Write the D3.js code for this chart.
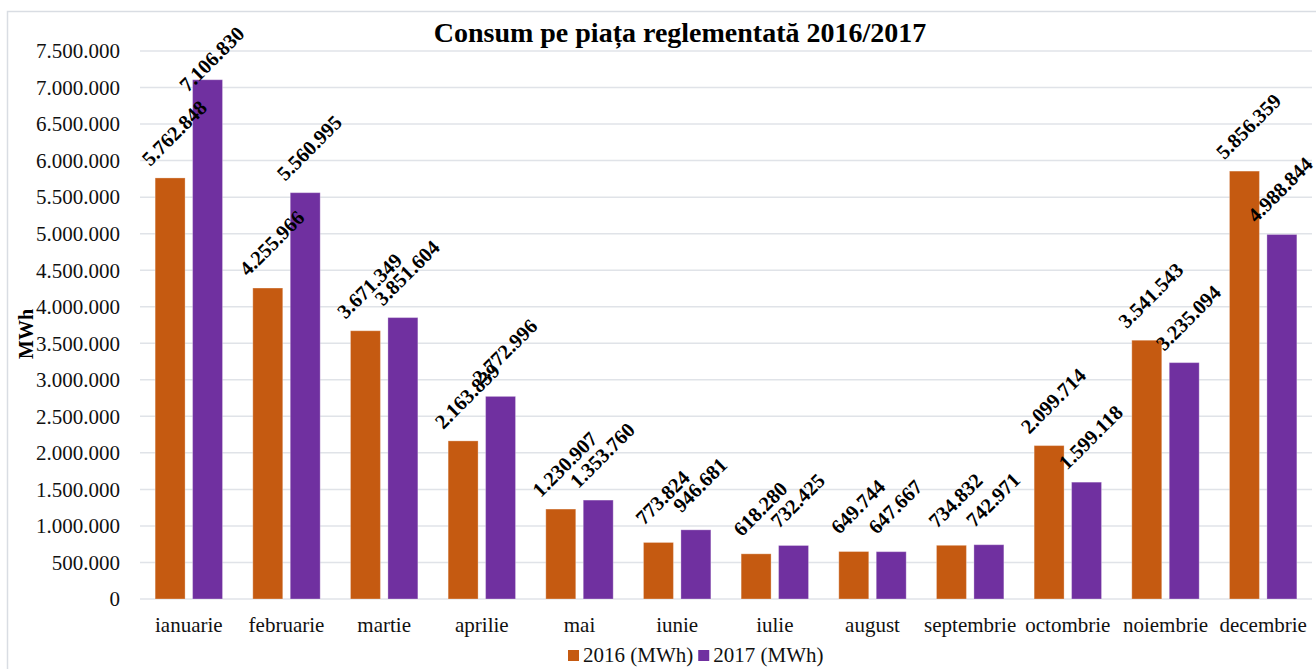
<!DOCTYPE html>
<html>
<head>
<meta charset="utf-8">
<script src="https://cdn.jsdelivr.net/npm/d3@7"></script>
<style>
  body { margin: 0; background: #fff; }
  svg text { font-family: "Liberation Serif", "Times New Roman", Tinos, "DejaVu Serif", serif; }
</style>
</head>
<body>
<div id="chart"></div>
<script>
// =============================
// DATA
// =============================
const months = ["ianuarie", "februarie", "martie", "aprilie", "mai", "iunie",
  "iulie", "august", "septembrie", "octombrie", "noiembrie", "decembrie"];
const seriesNames = ["2016 (MWh)", "2017 (MWh)"];
const values2016 = [5762848, 4255966, 3671349, 2163839, 1230907, 773824,
  618280, 649744, 734832, 2099714, 3541543, 5856359];
const values2017 = [7106830, 5560995, 3851604, 2772996, 1353760, 946681,
  732425, 647667, 742971, 1599118, 3235094, 4988844];
const yTicks = [0, 500000, 1000000, 1500000, 2000000, 2500000, 3000000, 3500000,
  4000000, 4500000, 5000000, 5500000, 6000000, 6500000, 7000000, 7500000];
const colors = ["#c55a11", "#7030a0"];

// =============================
// SETUP
// =============================
const width = 1316, height = 669;
const margin = { left: 140, right: 4, top: 51, bottom: 70 };
const serif = "'Liberation Serif', 'Times New Roman', Tinos, 'DejaVu Serif', serif";

const ro = d3.formatLocale({ decimal: ",", thousands: ".", grouping: [3], currency: ["", ""] });
const fmt = ro.format(",d");

const svg = d3.select("#chart").append("svg")
  .attr("width", width)
  .attr("height", height)
  .attr("font-family", serif)
  .style("display", "block");

// chart border
svg.append("rect")
  .attr("x", 7.5).attr("y", 11.5)
  .attr("width", width).attr("height", height)
  .attr("fill", "none")
  .attr("stroke", "#d9dde3")
  .attr("stroke-width", 1.5);

const y = d3.scaleLinear()
  .domain([0, 7500000])
  .range([height - margin.bottom, margin.top]);

const x0 = d3.scaleBand()
  .domain(months)
  .range([margin.left, width - margin.right]);

const x1 = d3.scaleBand()
  .domain(seriesNames)
  .range([x0.bandwidth() * 0.155, x0.bandwidth() * 0.845])
  .paddingInner(0.2);

// =============================
// GRID + Y AXIS
// =============================
svg.append("g")
  .selectAll("line")
  .data(yTicks)
  .enter().append("line")
  .attr("x1", margin.left)
  .attr("x2", width - margin.right)
  .attr("y1", d => y(d))
  .attr("y2", d => y(d))
  .attr("stroke", "#e0e3e8")
  .attr("stroke-width", 1.5);

svg.append("g")
  .selectAll("text")
  .data(yTicks)
  .enter().append("text")
  .attr("x", 120)
  .attr("y", d => y(d))
  .attr("dy", "0.35em")
  .attr("text-anchor", "end")
  .attr("font-size", "21px")
  .attr("fill", "#111")
  .text(d => fmt(d));

svg.append("text")
  .attr("transform", "translate(33,334) rotate(-90)")
  .attr("text-anchor", "middle")
  .attr("font-size", "20px")
  .attr("font-weight", "bold")
  .text("MWh");

// =============================
// X LABELS
// =============================
svg.append("g")
  .selectAll("text")
  .data(months)
  .enter().append("text")
  .attr("x", d => x0(d) + x0.bandwidth() / 2)
  .attr("y", 632)
  .attr("text-anchor", "middle")
  .attr("font-size", "21px")
  .attr("fill", "#111")
  .text(d => d);

// =============================
// BARS
// =============================
const rows = months.map((m, i) => ({
  month: m,
  vals: [
    { key: seriesNames[0], value: values2016[i], color: colors[0] },
    { key: seriesNames[1], value: values2017[i], color: colors[1] }
  ]
}));

const groups = svg.append("g")
  .selectAll("g")
  .data(rows)
  .enter().append("g")
  .attr("transform", d => `translate(${x0(d.month)},0)`);

groups.selectAll("rect")
  .data(d => d.vals)
  .enter().append("rect")
  .attr("x", d => x1(d.key))
  .attr("y", d => y(d.value))
  .attr("width", x1.bandwidth())
  .attr("height", d => y(0) - y(d.value))
  .attr("fill", d => d.color)
  .attr("stroke", "rgba(255,255,255,0.3)")
  .attr("stroke-width", 1);

// data labels, rotated -45deg above each bar (kept inside the chart box)
groups.selectAll("text")
  .data(d => d.vals)
  .enter().append("text")
  .attr("transform", function(d) {
    const gx = x0(this.parentNode.__data__.month);
    let cx = x1(d.key) + x1.bandwidth() / 2 + 4;
    cx = Math.min(cx, width - 36 - gx);
    const cy = Math.max(y(d.value) - 45, margin.top + 8);
    return `translate(${cx},${cy}) rotate(-45)`;
  })
  .attr("text-anchor", "middle")
  .attr("dy", "0.35em")
  .attr("font-size", "20.5px")
  .attr("font-weight", "bold")
  .text(d => fmt(d.value));

// =============================
// TITLE + LEGEND
// =============================
svg.append("text")
  .attr("x", 680)
  .attr("y", 42)
  .attr("text-anchor", "middle")
  .attr("font-size", "28px")
  .attr("font-weight", "bold")
  .text("Consum pe piața reglementată 2016/2017");

const legend = svg.append("g").attr("transform", "translate(568,662)");
let lx = 0;
seriesNames.forEach((s, i) => {
  const item = legend.append("g").attr("transform", `translate(${lx},0)`);
  item.append("rect")
    .attr("x", 0).attr("y", -12)
    .attr("width", 11).attr("height", 11)
    .attr("fill", colors[i]);
  const t = item.append("text")
    .attr("x", 15)
    .attr("y", 0)
    .attr("font-size", "21px")
    .attr("fill", "#111")
    .text(s);
  lx += 15 + t.node().getComputedTextLength() + 5;
});
</script>
</body>
</html>
